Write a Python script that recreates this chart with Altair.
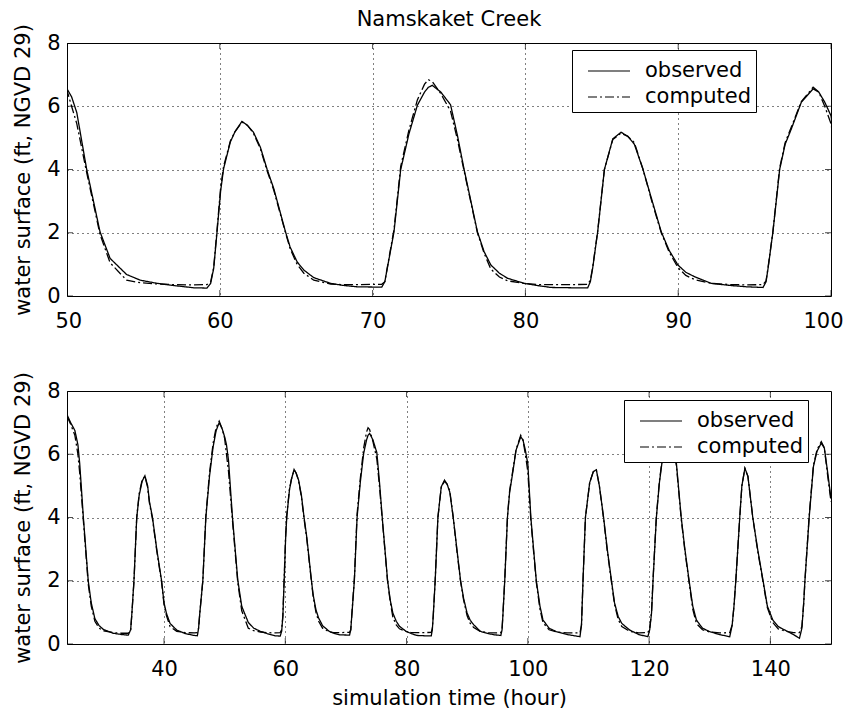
import altair as alt
import pandas as pd

# ---- data (simulation time in hours, water surface in ft) ----
hours = [24.0, 24.6, 25.3, 25.8, 26.1, 26.7, 27.1, 27.5, 28.0, 28.6, 29.3, 30.0, 31.6, 33.0, 34.1,
         34.5, 34.7, 35.05, 35.5, 35.9, 36.4, 36.85, 37.3, 37.6, 38.1, 38.8, 39.6, 40.0, 40.4, 41.0,
         42.1, 43.5, 45.0, 45.5, 45.7, 45.9, 46.4, 46.9, 47.5, 48.1, 48.6, 49.1, 49.6, 50.0, 50.3,
         50.64, 51.29, 52.16, 52.82, 53.9, 54.8, 55.9, 57.0, 58.3, 59.16, 59.4, 59.6, 59.82, 60.05, 60.25,
         60.69, 61.0, 61.45, 61.8, 62.2, 62.66, 63.1, 63.53, 64.3, 64.6, 65.06, 65.5, 66.15, 67.25, 68.0,
         69.0, 70.6, 70.8, 70.96, 71.4, 71.84, 72.38, 72.93, 73.4, 73.65, 73.91, 74.46, 75.1, 75.55, 75.99,
         76.86, 77.3, 77.74, 78.3, 78.83, 79.92, 80.8, 81.67, 83.0, 84.08, 84.25, 84.4, 84.73, 85.17, 85.72,
         86.26, 86.7, 87.13, 87.7, 88.3, 88.89, 89.4, 89.98, 90.5, 91.07, 92.16, 93.48, 94.5, 95.55, 95.75,
         95.88, 96.2, 96.64, 97.0, 97.41, 98.06, 98.83, 99.2, 99.59, 100.0, 100.5, 101.4, 102.0, 102.5, 103.5,
         104.7, 106.5, 108.6, 108.85, 109.1, 109.5, 110.2, 110.8, 111.3, 111.8, 112.5, 113.1, 113.8, 114.3, 114.9,
         115.5, 116.8, 118.3, 119.8, 120.1, 120.4, 120.65, 121.2, 121.7, 122.3, 122.9, 123.5, 124.0, 124.5, 125.3,
         125.9, 126.6, 127.2, 127.8, 128.8, 130.0, 131.6, 133.3, 133.7, 134.0, 134.3, 134.95, 135.3, 135.8, 136.3,
         137.1, 137.9, 138.8, 139.5, 140.4, 141.3, 142.6, 143.8, 144.8, 145.2, 145.5, 145.7, 146.4, 147.1, 147.7,
         148.4, 148.9, 149.4, 150.0]

observed = [7.25, 7.0, 6.75, 6.3, 5.7, 4.0, 3.0, 2.0, 1.3, 0.8, 0.58, 0.46, 0.34, 0.30, 0.28,
            0.45, 0.97, 2.03, 4.0, 4.7, 5.15, 5.32, 5.0, 4.5, 4.0, 3.0, 2.0, 1.3, 0.97, 0.65,
            0.44, 0.33, 0.27, 0.26, 0.5, 0.97, 2.0, 4.0, 5.3, 6.24, 6.75, 7.0, 6.8, 6.55, 6.3,
            5.8, 4.0, 2.03, 1.19, 0.68, 0.5, 0.4, 0.33, 0.26, 0.25, 0.4, 0.87, 2.03, 3.3, 4.03,
            4.87, 5.2, 5.52, 5.4, 5.18, 4.7, 4.0, 3.4, 2.03, 1.55, 1.08, 0.82, 0.58, 0.4, 0.34,
            0.29, 0.28, 0.45, 0.87, 2.03, 4.0, 5.13, 6.03, 6.45, 6.6, 6.66, 6.45, 6.05, 5.08, 4.0,
            2.03, 1.4, 0.98, 0.72, 0.56, 0.4, 0.33, 0.27, 0.26, 0.26, 0.45, 0.87, 2.03, 4.0, 4.97,
            5.18, 5.05, 4.8, 4.0, 3.0, 2.03, 1.45, 0.98, 0.75, 0.61, 0.4, 0.33, 0.29, 0.27, 0.45,
            0.87, 2.03, 4.0, 4.8, 5.29, 6.13, 6.55, 6.45, 6.13, 5.7, 4.0, 2.0, 1.2, 0.76, 0.5,
            0.39, 0.3, 0.23, 0.6, 2.0, 4.0, 5.1, 5.45, 5.51, 5.0, 4.0, 3.0, 2.0, 1.3, 0.87,
            0.65, 0.44, 0.3, 0.23, 0.45, 0.97, 2.0, 4.0, 5.1, 6.0, 6.3, 6.35, 6.2, 5.72, 4.0,
            3.0, 2.0, 1.2, 0.76, 0.5, 0.39, 0.3, 0.23, 0.6, 1.2, 2.0, 4.0, 5.0, 5.56, 5.3,
            4.0, 3.0, 2.0, 1.2, 0.76, 0.55, 0.42, 0.3, 0.18, 0.5, 1.3, 2.0, 4.0, 5.61, 6.1,
            6.35, 6.2, 5.5, 4.6]

computed = [7.2, 6.95, 6.6, 6.0, 5.4, 3.9, 2.9, 1.9, 1.2, 0.72, 0.5, 0.42, 0.36, 0.34, 0.34,
            0.45, 0.95, 2.0, 4.0, 4.75, 5.2, 5.3, 4.95, 4.45, 3.95, 2.95, 1.95, 1.25, 0.9, 0.55,
            0.4, 0.36, 0.35, 0.36, 0.5, 0.97, 2.0, 4.05, 5.4, 6.35, 6.85, 7.05, 6.8, 6.5, 6.0,
            5.45, 3.9, 1.95, 1.05, 0.5, 0.42, 0.38, 0.36, 0.35, 0.36, 0.45, 0.9, 2.1, 3.4, 4.1,
            4.9, 5.2, 5.5, 5.4, 5.15, 4.65, 3.95, 3.35, 2.0, 1.5, 1.0, 0.72, 0.5, 0.38, 0.36,
            0.36, 0.37, 0.45, 0.9, 2.1, 4.1, 5.25, 6.2, 6.7, 6.84, 6.78, 6.4, 5.85, 4.95, 3.95,
            2.0, 1.35, 0.85, 0.6, 0.48, 0.4, 0.36, 0.36, 0.36, 0.37, 0.5, 0.9, 2.05, 4.0, 4.95,
            5.15, 5.05, 4.85, 4.0, 2.95, 2.0, 1.4, 0.9, 0.65, 0.52, 0.4, 0.36, 0.35, 0.36, 0.48,
            0.9, 2.05, 4.05, 4.85, 5.35, 6.15, 6.6, 6.45, 6.0, 5.45, 3.9, 1.95, 1.1, 0.68, 0.45,
            0.38, 0.35, 0.35, 0.6, 2.0, 4.0, 5.1, 5.45, 5.5, 5.0, 3.95, 2.95, 1.95, 1.25, 0.78,
            0.55, 0.4, 0.35, 0.36, 0.5, 1.0, 2.05, 4.05, 5.15, 6.05, 6.35, 6.35, 6.15, 5.65, 3.95,
            2.95, 1.95, 1.1, 0.65, 0.45, 0.38, 0.35, 0.36, 0.6, 1.2, 2.0, 4.0, 5.0, 5.55, 5.3,
            4.0, 2.95, 1.95, 1.15, 0.68, 0.48, 0.4, 0.36, 0.36, 0.55, 1.3, 2.0, 4.05, 5.65, 6.15,
            6.4, 6.2, 5.4, 4.5]

series_names = ["observed", "computed"]
x_ticks_top = [50, 60, 70, 80, 90, 100]
x_ticks_bottom = [40, 60, 80, 100, 120, 140]
y_ticks = [0, 2, 4, 6, 8]

n = len(hours)
df = pd.DataFrame({
    "t": hours + hours,
    "v": observed + computed,
    "series": [series_names[0]] * n + [series_names[1]] * n,
})

FONT = "DejaVu Sans"
FS = 21
W, H = 764, 253


def panel(xdom, xvals, xtitle, title, legend_x, legend_y, flush):
    x_enc = alt.X("t:Q", scale=alt.Scale(domain=xdom, nice=False, zero=False),
                  axis=alt.Axis(values=xvals, title=xtitle, labelFlush=flush,
                                labelFlushOffset=12))
    y_enc = alt.Y("v:Q", scale=alt.Scale(domain=[0, 8], nice=False, zero=False),
                  axis=alt.Axis(values=y_ticks, title="water surface (ft, NGVD 29)"))

    lines = alt.Chart(df).mark_line(clip=True, color="black", strokeWidth=1.3).encode(
        x=x_enc,
        y=y_enc,
        strokeDash=alt.StrokeDash(
            "series:N",
            scale=alt.Scale(domain=series_names, range=[[1, 0], [9, 3, 2, 3]]),
            legend=alt.Legend(
                title=None, orient="none", legendX=legend_x, legendY=legend_y,
                fillColor="white", strokeColor="black", padding=5,
                symbolType="M-1.4,0H1.4", symbolSize=900, symbolStrokeWidth=1.2,
                symbolStrokeColor="black", symbolOffset=16,
                labelFont=FONT, labelFontSize=FS, labelColor="black",
                labelOffset=20, rowPadding=-2,
            ),
        ),
        order=alt.Order("t:Q"),
    )

    xt = pd.DataFrame({"t": xvals})
    yt = pd.DataFrame({"v": y_ticks})
    tick_top = alt.Chart(xt).mark_tick(orient="vertical", clip=True, color="black", size=12, thickness=1).encode(
        x=x_enc, y=alt.datum(8))
    tick_bot = alt.Chart(xt).mark_tick(orient="vertical", clip=True, color="black", size=12, thickness=1).encode(
        x=x_enc, y=alt.datum(0))
    tick_l = alt.Chart(yt).mark_tick(orient="horizontal", clip=True, color="black", size=12, thickness=1).encode(
        y=y_enc, x=alt.datum(xdom[0]))
    tick_r = alt.Chart(yt).mark_tick(orient="horizontal", clip=True, color="black", size=12, thickness=1).encode(
        y=y_enc, x=alt.datum(xdom[1]))

    props = dict(width=W, height=H)
    if title:
        props["title"] = alt.Title(title, font=FONT, fontSize=FS, fontWeight="normal",
                                   anchor="middle", color="black", offset=-6)
    return alt.layer(tick_top, tick_bot, tick_l, tick_r, lines).properties(**props)


top = panel([50, 100], x_ticks_top, None, "Namskaket Creek", 505, 7, True)
bottom = panel([24, 150], x_ticks_bottom, "simulation time (hour)", None, 557, 9, False)

chart = alt.vconcat(top, bottom, spacing=95, bounds="flush").resolve_scale(
    strokeDash="independent"
).resolve_legend(strokeDash="independent").properties(
    padding={"left": 4, "top": 0, "right": 0, "bottom": 0},
).configure(
    font=FONT, background="white"
).configure_view(
    stroke="black", strokeWidth=1
).configure_axis(
    labelFont=FONT, labelFontSize=FS, labelColor="black",
    titleFont=FONT, titleFontSize=FS, titleFontWeight="normal", titleColor="black",
    domain=False, ticks=False, labelPadding=7, titlePadding=8,
    grid=True, gridColor="black", gridDash=[1, 4], gridWidth=1, gridOpacity=1,
    labelFlush=False, labelOverlap=False, labelBound=False,
).configure_axisX(
    labelPadding=14, titlePadding=8,
).configure_axisY(
    labelPadding=7, titlePadding=13,
)

chart.save("out.html", embed_options={"renderer": "svg", "actions": False})
